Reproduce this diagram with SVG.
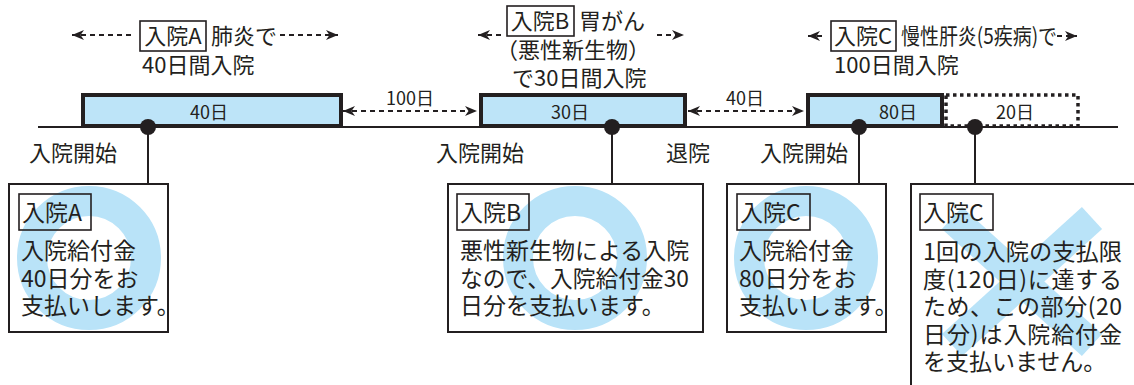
<svg xmlns="http://www.w3.org/2000/svg" width="1134" height="385" viewBox="0 0 1134 385">
<style>
text{font-family:"Noto Sans CJK JP","Noto Sans",sans-serif;fill:#231f20}
.t22{font-size:22px}
.t23{font-size:23px}
.t18{font-size:18px}
.mid{text-anchor:middle}
.bar{fill:#bde4f8;stroke:#231f20;stroke-width:4}
.dotbar{fill:none;stroke:#231f20;stroke-width:3.5;stroke-dasharray:3.5 3.5}
.tl{stroke:#231f20;stroke-width:2;fill:none}
.dash{stroke:#231f20;stroke-width:2;stroke-dasharray:5 4;fill:none}
.lbl{fill:none;stroke:#231f20;stroke-width:1.6}
.node{fill:#fff;stroke:#231f20;stroke-width:2}
.ring{fill:none;stroke:#b9e3f8;stroke-width:30}
.xm{stroke:#b9e3f8;stroke-width:30;stroke-linecap:butt}
.dot{fill:#231f20}
</style>
<defs>
<marker id="ah" viewBox="0 0 12 10" refX="12" refY="5" markerWidth="12" markerHeight="10" markerUnits="userSpaceOnUse" orient="auto-start-reverse">
<path d="M0,0 L12,5 L0,10 L3.5,5 z" fill="#231f20"/>
</marker>
</defs>

<g id="timeline">
<line class="tl" x1="38" y1="127" x2="1118" y2="127"/>
</g>

<g id="barA"><rect class="bar" x="83" y="95" width="258" height="31"/><text class="t18 mid" x="209" y="119">40日</text></g>
<g id="barB"><rect class="bar" x="481" y="95" width="204" height="31"/><text class="t18 mid" x="570" y="119">30日</text></g>
<g id="barC"><rect class="bar" x="808" y="95" width="134" height="31"/><text class="t18 mid" x="898" y="119">80日</text></g>
<g id="barC2"><rect class="dotbar" x="946" y="95" width="132" height="31"/><text class="t18 mid" x="1015" y="119">20日</text></g>

<g id="connectors">
<line class="dash" x1="343" y1="111" x2="477" y2="111" marker-start="url(#ah)" marker-end="url(#ah)"/>
<line class="dash" x1="688" y1="111" x2="804" y2="111" marker-start="url(#ah)" marker-end="url(#ah)"/>
<line class="dash" x1="72" y1="35" x2="132" y2="35" marker-start="url(#ah)"/>
<line class="dash" x1="280" y1="35" x2="338" y2="35" marker-end="url(#ah)"/>
<line class="dash" x1="478" y1="35" x2="503" y2="35" marker-start="url(#ah)"/>
<line class="dash" x1="657" y1="35" x2="684" y2="35" marker-end="url(#ah)"/>
<line class="dash" x1="808" y1="36" x2="822" y2="36" marker-start="url(#ah)"/>
<line class="dash" x1="1057" y1="36" x2="1077" y2="36" marker-end="url(#ah)"/>
<line class="tl" x1="148" y1="127" x2="148" y2="184"/>
<line class="tl" x1="612" y1="127" x2="612" y2="184"/>
<line class="tl" x1="859" y1="127" x2="859" y2="184"/>
<line class="tl" x1="975" y1="127" x2="975" y2="184"/>
<circle class="dot" cx="148" cy="127" r="8"/>
<circle class="dot" cx="612" cy="127" r="8"/>
<circle class="dot" cx="859" cy="127" r="8"/>
<circle class="dot" cx="975" cy="127" r="8"/>
</g>

<g id="gapLabels">
<text class="t18 mid" x="410" y="105">100日</text>
<text class="t18 mid" x="745" y="105">40日</text>
</g>

<g id="annA">
<rect class="lbl" x="140" y="21" width="66" height="30"/>
<text class="t22 mid" x="173" y="44">入院A</text>
<text class="t22" x="211" y="44">肺炎で</text>
<text class="t22" x="142" y="73">40日間入院</text>
</g>
<g id="annB">
<rect class="lbl" x="507" y="6" width="67" height="30"/>
<text class="t22 mid" x="540" y="29">入院B</text>
<text class="t22" x="579" y="29">胃がん</text>
<text class="t22 mid" x="573" y="58">（悪性新生物）</text>
<text class="t22" x="512" y="86">で30日間入院</text>
</g>
<g id="annC">
<rect class="lbl" x="831" y="21" width="65" height="30"/>
<text class="t22 mid" x="863" y="44">入院C</text>
<text class="t22" x="901" y="44" textLength="156" lengthAdjust="spacingAndGlyphs">慢性肝炎(5疾病)で</text>
<text class="t22" x="834" y="73">100日間入院</text>
</g>

<g id="axisLabels">
<text class="t22" x="29" y="161">入院開始</text>
<text class="t22" x="436" y="161">入院開始</text>
<text class="t22" x="666" y="161">退院</text>
<text class="t22" x="760" y="161">入院開始</text>
</g>

<g id="nodeA">
<rect class="node" x="9" y="184" width="159" height="148"/>
<circle class="ring" cx="89" cy="258" r="57"/>
<rect class="lbl" x="19" y="194" width="72" height="36"/>
<text class="t23" x="22" y="221">入院A</text>
<text class="t23" x="21" y="259">入院給付金</text>
<text class="t23" x="21" y="287">40日分をお</text>
<text class="t23" x="21" y="314">支払いします。</text>
</g>
<g id="nodeB">
<rect class="node" x="448" y="184" width="255" height="148"/>
<circle class="ring" cx="575" cy="258" r="57"/>
<rect class="lbl" x="457" y="194" width="72" height="36"/>
<text class="t23" x="460" y="221">入院B</text>
<text class="t23" x="460" y="259">悪性新生物による入院</text>
<text class="t23" x="460" y="287" textLength="229" lengthAdjust="spacingAndGlyphs">なので、入院給付金30</text>
<text class="t23" x="460" y="314">日分を支払います。</text>
</g>
<g id="nodeC1">
<rect class="node" x="727" y="184" width="159" height="148"/>
<circle class="ring" cx="806" cy="258" r="57"/>
<rect class="lbl" x="737" y="194" width="73" height="36"/>
<text class="t23" x="740" y="221">入院C</text>
<text class="t23" x="739" y="259">入院給付金</text>
<text class="t23" x="739" y="287">80日分をお</text>
<text class="t23" x="739" y="314">支払いします。</text>
</g>
<g id="nodeC2">
<rect class="node" x="911" y="184" width="240" height="220"/>
<line class="xm" x1="952" y1="218" x2="1092" y2="345"/>
<line class="xm" x1="1092" y1="218" x2="952" y2="345"/>
<rect class="lbl" x="920" y="194" width="73" height="36"/>
<text class="t23" x="923" y="221">入院C</text>
<text class="t23" x="923" y="260" textLength="199" lengthAdjust="spacingAndGlyphs">1回の入院の支払限</text>
<text class="t23" x="923" y="288" textLength="199" lengthAdjust="spacing">度(120日)に達する</text>
<text class="t23" x="923" y="315" textLength="199" lengthAdjust="spacing">ため、この部分(20</text>
<text class="t23" x="923" y="343" textLength="199" lengthAdjust="spacing">日分)は入院給付金</text>
<text class="t23" x="923" y="370">を支払いません。</text>
</g>
</svg>
